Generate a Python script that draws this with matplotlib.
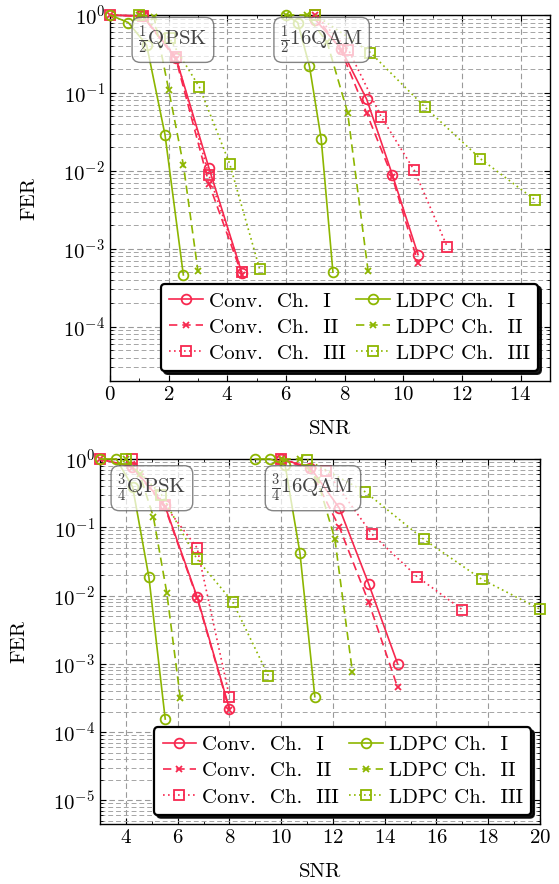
import numpy as np
import matplotlib
matplotlib.use('Agg')
import matplotlib.pyplot as plt
from matplotlib.ticker import LogLocator, NullFormatter, MultipleLocator

plt.rcParams['font.family'] = 'serif'
plt.rcParams['font.serif'] = ['cmr10']
plt.rcParams['mathtext.fontset'] = 'cm'
plt.rcParams['axes.formatter.use_mathtext'] = True

# ---- rate 1/2 (top panel) ----
# QPSK
h_qpsk_conv1_x = [0, 1.125, 2.25, 3.375, 4.5]
h_qpsk_conv1_y = [1, 0.97, 0.28, 0.0108, 4.8e-4]
h_qpsk_conv2_x = [0, 1.125, 2.25, 3.375, 4.5]
h_qpsk_conv2_y = [1, 0.96, 0.27, 0.0068, 4.6e-4]
h_qpsk_conv3_x = [0, 1.125, 2.25, 3.375, 4.5]
h_qpsk_conv3_y = [1, 0.97, 0.29, 0.0087, 5.0e-4]
h_qpsk_ldpc1_x = [0, 0.625, 1.25, 1.875, 2.5]
h_qpsk_ldpc1_y = [1, 0.8, 0.41, 0.029, 4.6e-4]
h_qpsk_ldpc2_x = [1.0, 1.5, 2.0, 2.5, 3.0]
h_qpsk_ldpc2_y = [1, 0.95, 0.11, 0.012, 5.1e-4]
h_qpsk_ldpc3_x = [1.0, 2.03, 3.05, 4.08, 5.1]
h_qpsk_ldpc3_y = [1, 0.5, 0.118, 0.0123, 5.5e-4]
# 16QAM
h_qam_conv1_x = [7.0, 7.875, 8.75, 9.625, 10.5]
h_qam_conv1_y = [0.87, 0.37, 0.083, 0.0089, 8.4e-4]
h_qam_conv2_x = [7.0, 7.875, 8.75, 9.625, 10.5]
h_qam_conv2_y = [1, 0.35, 0.055, 0.0083, 6.6e-4]
h_qam_conv3_x = [7.0, 8.125, 9.25, 10.375, 11.5]
h_qam_conv3_y = [1, 0.36, 0.049, 0.0101, 1.05e-3]
h_qam_ldpc1_x = [6.0, 6.4, 6.8, 7.2, 7.6]
h_qam_ldpc1_y = [1, 0.8, 0.22, 0.0255, 5.0e-4]
h_qam_ldpc2_x = [6.0, 6.7, 7.4, 8.1, 8.8]
h_qam_ldpc2_y = [1, 1, 0.45, 0.056, 5.1e-4]
h_qam_ldpc3_x = [7.0, 8.875, 10.75, 12.625, 14.5]
h_qam_ldpc3_y = [1, 0.33, 0.065, 0.0143, 0.0042]

# ---- rate 3/4 (bottom panel) ----
# QPSK
t_qpsk_conv1_x = [3.0, 4.25, 5.5, 6.75, 8.0]
t_qpsk_conv1_y = [1, 0.77, 0.21, 0.0096, 2.2e-4]
t_qpsk_conv2_x = [3.0, 4.25, 5.5, 6.75, 8.0]
t_qpsk_conv2_y = [1, 0.75, 0.2, 0.0092, 2.1e-4]
t_qpsk_conv3_x = [3.0, 4.25, 5.5, 6.75, 8.0]
t_qpsk_conv3_y = [1, 1, 0.21, 0.050, 3.3e-4]
t_qpsk_ldpc1_x = [3.0, 3.63, 4.26, 4.89, 5.52]
t_qpsk_ldpc1_y = [1, 1, 0.39, 0.0185, 1.55e-4]
t_qpsk_ldpc2_x = [4.0, 4.53, 5.06, 5.58, 6.1]
t_qpsk_ldpc2_y = [1, 0.6, 0.143, 0.011, 3.2e-4]
t_qpsk_ldpc3_x = [4.0, 5.375, 6.75, 8.125, 9.5]
t_qpsk_ldpc3_y = [1, 0.30, 0.034, 0.0081, 6.7e-4]
# 16QAM
t_qam_conv1_x = [10.0, 11.125, 12.25, 13.375, 14.5]
t_qam_conv1_y = [1, 0.75, 0.19, 0.015, 1.0e-3]
t_qam_conv2_x = [10.0, 11.125, 12.25, 13.375, 14.5]
t_qam_conv2_y = [1, 0.7, 0.1, 0.0081, 4.5e-4]
t_qam_conv3_x = [10.0, 11.75, 13.5, 15.25, 17.0]
t_qam_conv3_y = [1, 0.67, 0.080, 0.0189, 0.0062]
t_qam_ldpc1_x = [9.0, 9.575, 10.15, 10.725, 11.3]
t_qam_ldpc1_y = [1, 1, 0.82, 0.042, 3.3e-4]
t_qam_ldpc2_x = [10.05, 10.725, 11.4, 12.075, 12.75]
t_qam_ldpc2_y = [1, 1, 0.5, 0.067, 7.7e-4]
t_qam_ldpc3_x = [11.0, 13.25, 15.5, 17.75, 20.0]
t_qam_ldpc3_y = [0.98, 0.33, 0.067, 0.0173, 0.0063]

labels = ['Conv.  Ch.  I', 'Conv.  Ch.  II', 'Conv.  Ch.  III',
          'LDPC Ch.  I', 'LDPC Ch.  II', 'LDPC Ch.  III']

RED = '#f7284f'
GREEN = '#8db600'
styles = [
    dict(color=RED, marker='o', ls='-'),
    dict(color=RED, marker='x', ls=(0, (5, 3))),
    dict(color=RED, marker='s', ls=(0, (1, 2))),
    dict(color=GREEN, marker='o', ls='-'),
    dict(color=GREEN, marker='x', ls=(0, (5, 3))),
    dict(color=GREEN, marker='s', ls=(0, (1, 2))),
]


def draw_panel(ax, groups, xlim, ylim, boxes, legend_anchor):
    handles = []
    for k, st in enumerate(styles):
        for g, (xs, ys) in enumerate(groups[k]):
            ln, = ax.plot(xs, ys, color=st['color'], ls=st['ls'], marker=st['marker'],
                          mfc='none', ms=7 if st['marker'] != 'x' else 5, mew=1.3,
                          lw=1.2, clip_on=False, zorder=3)
            if g == 0:
                handles.append(ln)

    ax.set_yscale('log')
    ax.set_xlim(*xlim)
    ax.set_ylim(*ylim)
    ax.xaxis.set_major_locator(MultipleLocator(2))
    ax.xaxis.set_minor_locator(MultipleLocator(1))
    ax.yaxis.set_major_locator(LogLocator(base=10, numticks=20))
    ax.yaxis.set_minor_locator(LogLocator(base=10, subs=np.arange(2, 10), numticks=20))
    ax.yaxis.set_minor_formatter(NullFormatter())
    ax.grid(True, which='major', axis='both', color='#9a9a9a', ls=(0, (5, 3)), lw=0.8)
    ax.grid(True, which='minor', axis='y', color='#a5a5a5', ls=(0, (5, 3)), lw=0.7)
    ax.tick_params(which='both', direction='in', top=True, right=True, labelsize=15)
    ax.tick_params(which='major', length=4)
    ax.tick_params(which='minor', length=2)
    for sp in ax.spines.values():
        sp.set_linewidth(1.0)
    ax.set_xlabel('SNR', fontsize=15, labelpad=12)
    ax.set_ylabel('FER', fontsize=15, labelpad=18)

    for (bx, by, txt) in boxes:
        ax.text(bx, by, txt, transform=ax.transAxes, ha='center', va='center',
                fontsize=15, color='#444444', zorder=5,
                bbox=dict(boxstyle='round,pad=0.3,rounding_size=0.4', fc='white',
                          ec='#555555', alpha=0.72, lw=1.0))

    leg = ax.legend(handles, labels, ncol=2, loc='lower right', bbox_to_anchor=legend_anchor,
                    fontsize=15, frameon=True, fancybox=True, framealpha=1,
                    edgecolor='black', handlelength=1.6, handletextpad=0.3,
                    columnspacing=0.5, labelspacing=0.36, borderpad=0.4,
                    borderaxespad=0, shadow={'color': 'black', 'alpha': 0.9})
    leg.get_frame().set_linewidth(1.6)
    leg.set_zorder(10)


fig = plt.figure(figsize=(5.59, 8.84), dpi=100)
ax1 = fig.add_axes([110 / 559, 1 - 381 / 884, 440 / 559, 366 / 884])
ax2 = fig.add_axes([100 / 559, 1 - 824 / 884, 440 / 559, 365 / 884])

top_groups = [
    [(h_qpsk_conv1_x, h_qpsk_conv1_y), (h_qam_conv1_x, h_qam_conv1_y)],
    [(h_qpsk_conv2_x, h_qpsk_conv2_y), (h_qam_conv2_x, h_qam_conv2_y)],
    [(h_qpsk_conv3_x, h_qpsk_conv3_y), (h_qam_conv3_x, h_qam_conv3_y)],
    [(h_qpsk_ldpc1_x, h_qpsk_ldpc1_y), (h_qam_ldpc1_x, h_qam_ldpc1_y)],
    [(h_qpsk_ldpc2_x, h_qpsk_ldpc2_y), (h_qam_ldpc2_x, h_qam_ldpc2_y)],
    [(h_qpsk_ldpc3_x, h_qpsk_ldpc3_y), (h_qam_ldpc3_x, h_qam_ldpc3_y)],
]
bottom_groups = [
    [(t_qpsk_conv1_x, t_qpsk_conv1_y), (t_qam_conv1_x, t_qam_conv1_y)],
    [(t_qpsk_conv2_x, t_qpsk_conv2_y), (t_qam_conv2_x, t_qam_conv2_y)],
    [(t_qpsk_conv3_x, t_qpsk_conv3_y), (t_qam_conv3_x, t_qam_conv3_y)],
    [(t_qpsk_ldpc1_x, t_qpsk_ldpc1_y), (t_qam_ldpc1_x, t_qam_ldpc1_y)],
    [(t_qpsk_ldpc2_x, t_qpsk_ldpc2_y), (t_qam_ldpc2_x, t_qam_ldpc2_y)],
    [(t_qpsk_ldpc3_x, t_qpsk_ldpc3_y), (t_qam_ldpc3_x, t_qam_ldpc3_y)],
]

draw_panel(ax1, top_groups, (0, 15), (2e-5, 1),
           [(0.143, 0.932, r'$\frac{1}{2}$QPSK'), (0.481, 0.932, r'$\frac{1}{2}$16QAM')],
           (0.973, 0.027))
draw_panel(ax2, bottom_groups, (3, 20), (4.5e-6, 1),
           [(0.118, 0.92, r'$\frac{3}{4}$QPSK'), (0.484, 0.92, r'$\frac{3}{4}$16QAM')],
           (0.98, 0.025))

fig.savefig('out.png', dpi=100)
